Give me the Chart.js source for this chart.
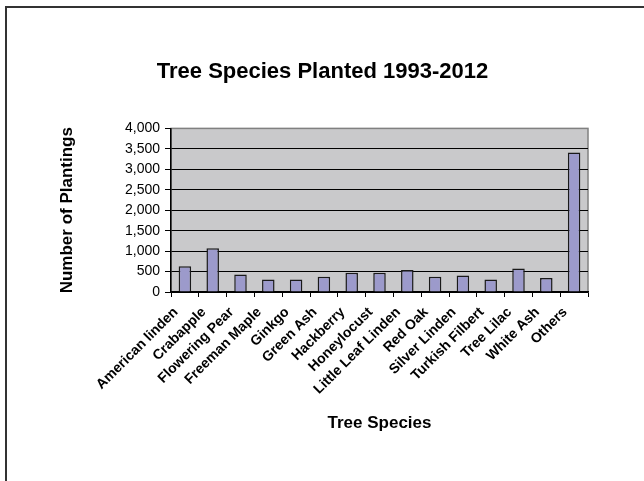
<!DOCTYPE html>
<html>
<head>
<meta charset="utf-8">
<script src="https://cdn.jsdelivr.net/npm/chart.js@4/dist/chart.umd.min.js"></script>
<style>
  html, body { margin: 0; padding: 0; background: #fff; }
  #wrap { width: 644px; height: 481px; }
</style>
</head>
<body>
<div id="wrap"><canvas id="chart" width="644" height="481"></canvas></div>
<script>
// Species and number of plantings
const species = ['American linden', 'Crabapple', 'Flowering Pear', 'Freeman Maple', 'Ginkgo',
  'Green Ash', 'Hackberry', 'Honeylocust', 'Little Leaf Linden', 'Red Oak', 'Silver Linden',
  'Turkish Filbert', 'Tree Lilac', 'White Ash', 'Others'];
const plantings = [630, 1070, 430, 305, 305, 370, 470, 470, 535, 370, 405, 305, 575, 340, 3410];

const FONT = 'Arial, "Liberation Sans", sans-serif';

// gray plot background + outer frame
const backdrop = {
  id: 'backdrop',
  beforeDraw(chart) {
    const ctx = chart.ctx;
    const a = chart.chartArea;
    ctx.save();
    ctx.fillStyle = '#fff';
    ctx.fillRect(0, 0, chart.width, chart.height);
    ctx.strokeStyle = '#333';
    ctx.lineWidth = 2;
    ctx.strokeRect(6, 7, chart.width + 10, chart.height + 10);
    ctx.fillStyle = '#c9c9cb';
    ctx.fillRect(a.left, a.top, a.right - a.left, a.bottom - a.top);
    ctx.strokeStyle = '#808080';
    ctx.lineWidth = 1.5;
    ctx.strokeRect(a.left, a.top, a.right - a.left, a.bottom - a.top);
    ctx.restore();
  }
};

new Chart(document.querySelector('#chart'), {
  type: 'bar',
  data: {
    labels: species,
    datasets: [{
      data: plantings,
      backgroundColor: '#9c9acb',
      borderColor: '#1a1a1a',
      borderWidth: 1.5,
      barPercentage: 0.45,
      categoryPercentage: 1
    }]
  },
  options: {
    responsive: false,
    animation: false,
    layout: { padding: { left: 57, right: 56, top: 0, bottom: 47 } },
    plugins: {
      legend: { display: false },
      tooltip: { enabled: false },
      title: {
        display: true,
        text: 'Tree Species Planted 1993-2012',
        color: '#000',
        font: { family: FONT, size: 22, weight: 'bold' },
        padding: { top: 59, bottom: 43 }
      }
    },
    scales: {
      x: {
        afterFit: s => { s.height = 142; },
        border: { color: '#000', width: 1.5 },
        grid: {
          offset: true,
          drawOnChartArea: false,
          color: '#000',
          tickLength: 5
        },
        ticks: {
          color: '#000',
          autoSkip: false,
          maxRotation: 45,
          minRotation: 45,
          padding: 7,
          labelOffset: -9,
          font: { family: FONT, size: 14, weight: 'bold' }
        },
        title: {
          display: true,
          text: 'Tree Species',
          color: '#000',
          padding: 0,
          font: { family: FONT, size: 17, weight: 'bold' }
        }
      },
      y: {
        min: 0,
        max: 4000,
        afterFit: s => { s.width = 114; },
        border: { color: '#000', width: 1.5 },
        grid: {
          color: c => c.tick && c.tick.value === 4000 ? 'rgba(0,0,0,0)' : '#000',
          tickColor: '#000',
          tickLength: 6,
          lineWidth: 1
        },
        ticks: {
          stepSize: 500,
          autoSkip: false,
          color: '#000',
          padding: 5,
          font: { family: FONT, size: 14 },
          callback: v => v.toLocaleString('en-US')
        },
        title: {
          display: true,
          text: 'Number of Plantings',
          color: '#000',
          padding: 0,
          font: { family: FONT, size: 17, weight: 'bold' }
        }
      }
    }
  },
  plugins: [backdrop]
});
</script>
</body>
</html>
